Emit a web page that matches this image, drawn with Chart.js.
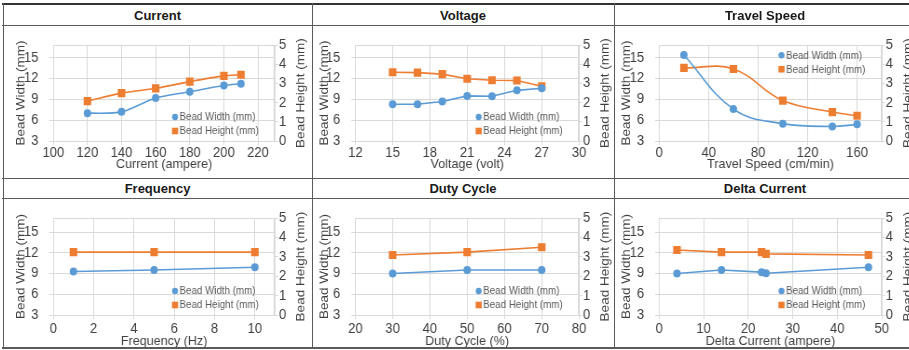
<!DOCTYPE html>
<html>
<head>
<meta charset="utf-8">
<script src="https://cdn.jsdelivr.net/npm/chart.js@4.4.1/dist/chart.umd.min.js"></script>
<style>
  html, body { margin:0; padding:0; background:#fff; overflow:hidden; }
  body { width:909px; height:350px; position:relative; font-family:"Liberation Sans", Arial, sans-serif; }
  .cell { position:absolute; transform-origin:0 0; }
  .hdr { position:absolute; display:flex; align-items:center; justify-content:center; font-weight:bold; font-size:13px; color:#1a1a1a; }
  .ln { position:absolute; background:#5a5a5a; z-index:5; }
</style>
</head>
<body>
<script>
// ---------------- DATA ----------------
const panelTitles = ["Current", "Voltage", "Travel Speed", "Frequency", "Duty Cycle", "Delta Current"];
const xAxisTitles = ["Current (ampere)", "Voltage (volt)", "Travel Speed (cm/min)", "Frequency (Hz)", "Duty Cycle (%)", "Delta Current (ampere)"];
const seriesNames = ["Bead Width (mm)", "Bead Height (mm)"];
const leftAxisTitle = "Bead Width (mm)";
const rightAxisTitle = "Bead Height (mm)";

const currentX = [120, 140, 160, 180, 200, 210];
const currentWidth = [7.0, 7.2, 9.2, 10.1, 11.0, 11.25];
const currentHeight = [2.08, 2.5, 2.75, 3.1, 3.4, 3.46];

const voltageX = [15, 17, 19, 21, 23, 25, 27];
const voltageWidth = [8.3, 8.3, 8.7, 9.5, 9.45, 10.3, 10.6];
const voltageHeight = [3.59, 3.57, 3.49, 3.25, 3.17, 3.16, 2.86];

const speedX = [20, 60, 100, 140, 160];
const speedWidth = [15.4, 7.6, 5.5, 5.1, 5.4];
const speedHeight = [3.82, 3.76, 2.11, 1.51, 1.32];

const freqX = [1, 5, 10];
const freqWidth = [9.3, 9.5, 9.9];
const freqHeight = [3.25, 3.25, 3.25];

const dutyX = [30, 50, 70];
const dutyWidth = [9.0, 9.5, 9.5];
const dutyHeight = [3.1, 3.25, 3.5];

const deltaX = [4, 14, 23, 24, 47];
const deltaWidth = [9.0, 9.5, 9.2, 9.05, 9.9];
const deltaHeight = [3.36, 3.25, 3.25, 3.16, 3.1];

// x-axis ranges [min, max, step]
const xRanges = [[100, 230, 20], [12, 30, 3], [0, 180, 40], [0, 11, 2], [20, 80, 10], [0, 50, 10]];
const leftRange = [3, 15, 3];      // min, last tick, step
const rightRange = [0, 5, 1];

// ---------------- STYLE / LAYOUT ----------------
const S = 0.93;                  // horizontal squeeze of the chart images
const BLUE = "#5B9BD5", ORANGE = "#ED7D31", GRID = "#d9d9d9", TXT = "#404040";
const FONT = "'Liberation Sans', Arial, sans-serif";
const TICK = 14, TITLE = 13.5, LEG = 10.5;
const cols = [{left:3, width:309, plotL:50.3, plotR:37, titleX:17.5},
              {left:312, width:302, plotL:43.2, plotR:35.8, titleX:12},
              {left:614, width:302, plotL:45, plotR:35, titleX:12}];
const rows = [{top:25, height:153, padTop:11, xH:37, xTickPad:0, xTitlePad:6.5, yMax:16.8},
              {top:198, height:150, padTop:10, xH:33, xTickPad:2, xTitlePad:0, yMax:17}];
const panels = [
  {x:currentX, w:currentWidth, h:currentHeight, tension:0.3, legendTop:false},
  {x:voltageX, w:voltageWidth, h:voltageHeight, tension:0, legendTop:false},
  {x:speedX, w:speedWidth, h:speedHeight, tension:0.4, legendTop:true},
  {x:freqX, w:freqWidth, h:freqHeight, tension:0, legendTop:false},
  {x:dutyX, w:dutyWidth, h:dutyHeight, tension:0, legendTop:false},
  {x:deltaX, w:deltaWidth, h:deltaHeight, tension:0, legendTop:false},
];

const extras = {
  id: 'extras',
  beforeDatasetsDraw(chart) {
    const {ctx, chartArea:a} = chart;
    ctx.save();
    ctx.strokeStyle = GRID; ctx.lineWidth = 1;
    ctx.strokeRect(Math.round(a.left)+0.5, Math.round(a.top)+0.5, Math.round(a.right-a.left)-1, Math.round(a.bottom-a.top));
    ctx.restore();
  },
  afterDraw(chart, args, o) {
    const {ctx, chartArea:a} = chart;
    ctx.save();
    // right axis title (reads bottom-to-top)
    ctx.translate(a.right + 26 / S, (a.top + a.bottom) / 2);
    ctx.rotate(-Math.PI / 2);
    ctx.font = TITLE + "px " + FONT; ctx.fillStyle = TXT;
    ctx.textAlign = 'center'; ctx.textBaseline = 'middle';
    ctx.fillText(rightAxisTitle, 0, 0);
    ctx.restore();
    // legend inside plot
    ctx.save();
    chart.data.datasets.forEach((ds, i) => {
      const cy = o.top ? a.top + [10, 24][i] : a.bottom - [24, 10][i];
      const cx = a.right - 100 / S;
      ctx.fillStyle = ds.borderColor;
      if (i === 0) { ctx.beginPath(); ctx.arc(cx, cy, 3.2, 0, Math.PI * 2); ctx.fill(); }
      else { ctx.fillRect(cx - 3.3, cy - 3.3, 6.6, 6.6); }
      ctx.font = LEG + "px " + FONT; ctx.fillStyle = "#595959";
      ctx.textAlign = 'left'; ctx.textBaseline = 'middle';
      ctx.fillText(ds.label, cx + 4.5 / S, cy + 0.5);
    });
    ctx.restore();
  }
};

function stepFilter(min, step) {
  return (scale) => {
    scale.ticks = scale.ticks.filter(t => Math.abs((t.value - min) / step - Math.round((t.value - min) / step)) < 1e-6);
  };
}

panels.forEach((p, idx) => {
  const col = cols[idx % 3], row = rows[Math.floor(idx / 3)];
  // header
  const hd = document.createElement('div');
  hd.className = 'hdr';
  hd.style.left = col.left + 'px'; hd.style.width = col.width + 'px';
  hd.style.top = (idx < 3 ? 5 : 179) + 'px'; hd.style.height = (idx < 3 ? 21 : 19) + 'px';
  hd.textContent = panelTitles[idx];
  document.body.appendChild(hd);
  // chart cell
  const div = document.createElement('div');
  div.className = 'cell';
  div.style.left = col.left + 'px'; div.style.top = row.top + 'px';
  div.style.width = (col.width / S) + 'px'; div.style.height = row.height + 'px';
  div.style.transform = 'scaleX(' + S + ')';
  const cv = document.createElement('canvas');
  div.appendChild(cv);
  document.body.appendChild(div);

  const [xmin, xmax, xstep] = xRanges[idx];
  new Chart(cv, {
    type: 'line',
    data: {
      datasets: [
        { label: seriesNames[0], data: p.x.map((x, i) => ({x, y: p.w[i]})), yAxisID: 'y',
          borderColor: BLUE, backgroundColor: BLUE, pointBackgroundColor: BLUE, pointBorderColor: BLUE,
          pointStyle: 'circle', pointRadius: 3.2, borderWidth: 1.6, tension: p.tension },
        { label: seriesNames[1], data: p.x.map((x, i) => ({x, y: p.h[i]})), yAxisID: 'y1',
          borderColor: ORANGE, backgroundColor: ORANGE, pointBackgroundColor: ORANGE, pointBorderColor: ORANGE,
          pointStyle: 'rect', pointRadius: 4.6, borderWidth: 1.6, tension: p.tension }
      ]
    },
    plugins: [extras],
    options: {
      responsive: true, maintainAspectRatio: false, animation: false,
      layout: { autoPadding: false, padding: { top: row.padTop, left: 0, right: 0, bottom: 0 } },
      plugins: { legend: { display: false }, tooltip: { enabled: false }, extras: { top: p.legendTop } },
      scales: {
        x: {
          type: 'linear', min: xmin, max: xmax,
          ticks: { stepSize: xstep, includeBounds: false, autoSkip: false, maxRotation: 0, padding: row.xTickPad, color: TXT, font: { family: FONT, size: TICK } },
          afterBuildTicks: stepFilter(xmin, xstep),
          afterFit: (s) => { s.height = row.xH; },
          grid: { color: GRID, tickLength: 4 },
          border: { color: GRID },
          title: { display: true, text: xAxisTitles[idx], color: TXT, font: { family: FONT, size: TITLE, lineHeight: 1 },
                   padding: { top: 0, bottom: row.xTitlePad } }
        },
        y: {
          position: 'left', min: leftRange[0], max: row.yMax,
          ticks: { stepSize: leftRange[2], includeBounds: false, autoSkip: false, padding: 11 / S, color: TXT, font: { family: FONT, size: TICK } },
          afterBuildTicks: stepFilter(leftRange[0], leftRange[2]),
          afterFit: (s) => { s.width = col.plotL / S; },
          grid: { color: GRID, tickLength: 4 / S },
          border: { color: GRID },
          title: { display: true, text: leftAxisTitle, color: TXT, font: { family: FONT, size: TITLE, lineHeight: 1 },
                   padding: { top: col.titleX / S - TITLE / 2, bottom: 0 } }
        },
        y1: {
          position: 'right', min: rightRange[0], max: rightRange[1],
          ticks: { stepSize: rightRange[2], autoSkip: false, padding: 1, color: TXT, font: { family: FONT, size: TICK } },
          afterFit: (s) => { s.width = col.plotR / S; },
          grid: { drawOnChartArea: false, color: GRID, tickLength: 3 / S },
          border: { color: GRID }
        }
      }
    }
  });
});

// table lines
function line(l, t, w, h, c) {
  const d = document.createElement('div'); d.className = 'ln';
  d.style.left = l + 'px'; d.style.top = t + 'px'; d.style.width = w + 'px'; d.style.height = h + 'px';
  if (c) d.style.background = c;
  document.body.appendChild(d);
}
line(2, 3, 920, 2, "#333");
line(2, 24.5, 920, 1.5);
line(2, 177.5, 920, 1.5);
line(2, 197.5, 920, 1.5);
line(2, 347, 920, 1.5);
line(2.5, 3, 1.5, 346);
line(311.5, 3, 1.5, 346);
line(613.5, 3, 1.5, 346);
</script>
</body>
</html>
